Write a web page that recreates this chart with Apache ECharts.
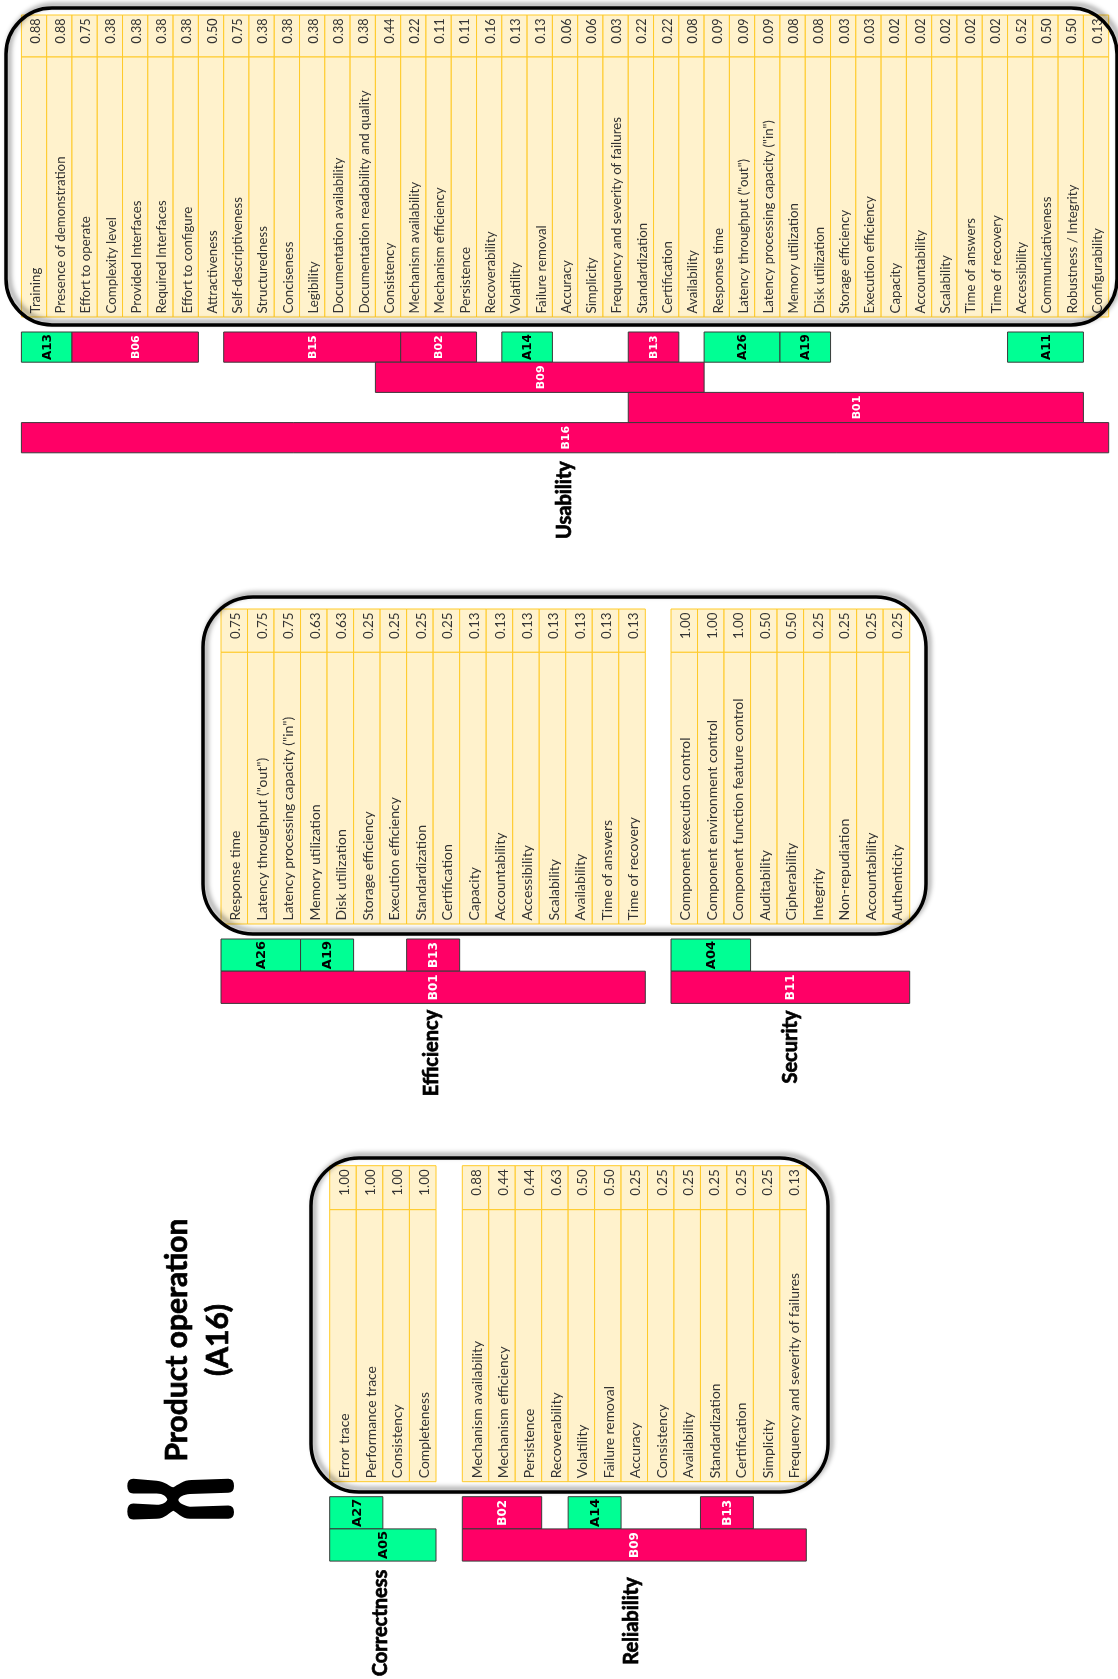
<!DOCTYPE html>
<html>
<head>
<meta charset="utf-8">
<title>Product operation (A16)</title>
<script src="https://cdn.jsdelivr.net/npm/echarts@6/dist/echarts.min.js"></script>
<style>
  html, body { margin: 0; padding: 0; background: #fff; }
  #main { width: 1118px; height: 1679px; }
</style>
</head>
<body>
<div id="main"></div>
<script>
// bars are [label, first column, last column, level] (level 1 sits next to the table)
const usabilityNames = ['Training', 'Presence of demonstration', 'Effort to operate', 'Complexity level', 'Provided Interfaces', 'Required Interfaces', 'Effort to configure', 'Attractiveness', 'Self-descriptiveness', 'Structuredness', 'Conciseness', 'Legibility', 'Documentation availability', 'Documentation readability and quality', 'Consistency', 'Mechanism availability', 'Mechanism efficiency', 'Persistence', 'Recoverability', 'Volatility', 'Failure removal', 'Accuracy', 'Simplicity', 'Frequency and severity of failures', 'Standardization', 'Certification', 'Availability', 'Response time', 'Latency throughput ("out")', 'Latency processing capacity ("in")', 'Memory utilization', 'Disk utilization', 'Storage efficiency', 'Execution efficiency', 'Capacity', 'Accountability', 'Scalability', 'Time of answers', 'Time of recovery', 'Accessibility', 'Communicativeness', 'Robustness / Integrity', 'Configurability'];
const usabilityValues = [0.88, 0.88, 0.75, 0.38, 0.38, 0.38, 0.38, 0.50, 0.75, 0.38, 0.38, 0.38, 0.38, 0.38, 0.44, 0.22, 0.11, 0.11, 0.16, 0.13, 0.13, 0.06, 0.06, 0.03, 0.22, 0.22, 0.08, 0.09, 0.09, 0.09, 0.08, 0.08, 0.03, 0.03, 0.02, 0.02, 0.02, 0.02, 0.02, 0.52, 0.50, 0.50, 0.13];
const usabilityBars = [['A13', 0, 1, 1], ['B06', 2, 6, 1], ['B15', 8, 14, 1], ['B02', 15, 17, 1], ['A14', 19, 20, 1], ['B13', 24, 25, 1], ['A26', 27, 29, 1], ['A19', 30, 31, 1], ['A11', 39, 41, 1], ['B09', 14, 26, 2], ['B01', 24, 41, 3], ['B16', 0, 42, 4]];

const efficiencyNames = ['Response time', 'Latency throughput ("out")', 'Latency processing capacity ("in")', 'Memory utilization', 'Disk utilization', 'Storage efficiency', 'Execution efficiency', 'Standardization', 'Certification', 'Capacity', 'Accountability', 'Accessibility', 'Scalability', 'Availability', 'Time of answers', 'Time of recovery'];
const efficiencyValues = [0.75, 0.75, 0.75, 0.63, 0.63, 0.25, 0.25, 0.25, 0.25, 0.13, 0.13, 0.13, 0.13, 0.13, 0.13, 0.13];
const efficiencyBars = [['A26', 0, 2, 1], ['A19', 3, 4, 1], ['B13', 7, 8, 1], ['B01', 0, 15, 2]];

const securityNames = ['Component execution control', 'Component environment control', 'Component function feature control', 'Auditability', 'Cipherability', 'Integrity', 'Non-repudiation', 'Accountability', 'Authenticity'];
const securityValues = [1.00, 1.00, 1.00, 0.50, 0.50, 0.25, 0.25, 0.25, 0.25];
const securityBars = [['A04', 0, 2, 1], ['B11', 0, 8, 2]];

const correctnessNames = ['Error trace', 'Performance trace', 'Consistency', 'Completeness'];
const correctnessValues = [1.00, 1.00, 1.00, 1.00];
const correctnessBars = [['A27', 0, 1, 1], ['A05', 0, 3, 2]];

const reliabilityNames = ['Mechanism availability', 'Mechanism efficiency', 'Persistence', 'Recoverability', 'Volatility', 'Failure removal', 'Accuracy', 'Consistency', 'Availability', 'Standardization', 'Certification', 'Simplicity', 'Frequency and severity of failures'];
const reliabilityValues = [0.88, 0.44, 0.44, 0.63, 0.50, 0.50, 0.25, 0.25, 0.25, 0.25, 0.25, 0.25, 0.13];
const reliabilityBars = [['B02', 0, 2, 1], ['A14', 4, 5, 1], ['B13', 9, 10, 1], ['B09', 0, 12, 2]];

const PINK = '#ff0066';
const GREEN = '#00ff94';

var chart = echarts.init(document.getElementById('main'));

// one grid per table, y axis runs in px from the top of the table
const panels = [
  { names: usabilityNames, values: usabilityValues, bars: usabilityBars, left: 21.4, width: 1087.3, top: 15, split: 42, end: 302, barsAt: 317, rowH: 30.2, rows: 4, font: 13.3, valueFont: 12.6, barFont: 12 },
  { names: efficiencyNames, values: efficiencyValues, bars: efficiencyBars, left: 221, width: 424.3, top: 609, split: 43.3, end: 315, barsAt: 330, rowH: 32.2, rows: 2, font: 14, valueFont: 13.4, barFont: 13 },
  { names: securityNames, values: securityValues, bars: securityBars, left: 671, width: 238.7, top: 609, split: 43.3, end: 315, barsAt: 330, rowH: 32.2, rows: 2, font: 14, valueFont: 13.4, barFont: 13 },
  { names: correctnessNames, values: correctnessValues, bars: correctnessBars, left: 329.7, width: 106.3, top: 1165.7, split: 44, end: 316, barsAt: 331, rowH: 32.2, rows: 2, font: 13.9, valueFont: 13.4, barFont: 13 },
  { names: reliabilityNames, values: reliabilityValues, bars: reliabilityBars, left: 462.3, width: 344, top: 1165.7, split: 44, end: 316, barsAt: 331, rowH: 32.2, rows: 2, font: 13.9, valueFont: 13.4, barFont: 13 }
];

var grids = [], xAxes = [], yAxes = [], series = [];

panels.forEach(function (p, k) {
  var h = p.barsAt + p.rows * p.rowH;
  grids.push({ left: p.left, top: p.top, width: p.width, height: h });
  xAxes.push({ gridIndex: k, type: 'category', data: p.names, show: false });
  yAxes.push({ gridIndex: k, type: 'value', min: 0, max: h, inverse: true, show: false });

  series.push({
    type: 'custom',
    xAxisIndex: k,
    yAxisIndex: k,
    clip: false,
    data: p.values.map(function (v, i) { return [i, v]; }),
    encode: { x: 0, y: 1 },
    renderItem: function (params, api) {
      var i = api.value(0);
      var bw = api.size([1, 0])[0];
      var cx = api.coord([i, 0])[0];
      var y0 = api.coord([i, 0])[1];
      var y1 = api.coord([i, p.split])[1];
      var y2 = api.coord([i, p.end])[1];
      var cell = { fill: '#fff2cc', stroke: '#ffca28', lineWidth: 1 };
      return {
        type: 'group',
        children: [
          { type: 'rect', shape: { x: cx - bw / 2, y: y0, width: bw, height: y1 - y0 }, style: cell },
          { type: 'rect', shape: { x: cx - bw / 2, y: y1, width: bw, height: y2 - y1 }, style: cell },
          { type: 'text', x: cx + 1.5, y: y0 + 3.5, rotation: Math.PI / 2, style: { text: api.value(1).toFixed(2), fill: '#333', font: p.valueFont + 'px Lato', align: 'right', verticalAlign: 'middle' } },
          { type: 'text', x: cx + 1.5, y: y2 - 3.5, rotation: Math.PI / 2, style: { text: p.names[i], fill: '#333', font: p.font + 'px Lato', align: 'left', verticalAlign: 'middle' } }
        ]
      };
    }
  });

  series.push({
    type: 'custom',
    xAxisIndex: k,
    yAxisIndex: k,
    clip: false,
    data: p.bars.map(function (b) { return [b[1], b[2], b[3]]; }),
    encode: { x: [0, 1], y: 2 },
    renderItem: function (params, api) {
      var bar = p.bars[params.dataIndex];
      var bw = api.size([1, 0])[0];
      var x0 = api.coord([api.value(0), 0])[0] - bw / 2;
      var x1 = api.coord([api.value(1), 0])[0] + bw / 2;
      var lv = api.value(2);
      var y0 = api.coord([0, p.barsAt + (lv - 1) * p.rowH])[1];
      var y1 = api.coord([0, p.barsAt + lv * p.rowH])[1];
      var isGreen = bar[0].charAt(0) === 'A';
      return {
        type: 'group',
        children: [
          { type: 'rect', shape: { x: x0, y: y0, width: x1 - x0, height: y1 - y0 }, style: { fill: isGreen ? GREEN : PINK, stroke: '#3a3a3a', lineWidth: 1 } },
          { type: 'text', x: (x0 + x1) / 2 + 1, y: (y0 + y1) / 2, rotation: Math.PI / 2, style: { text: bar[0], fill: isGreen ? '#000' : '#fff', font: 'bold ' + (isGreen ? p.barFont : p.barFont - 1) + 'px "DejaVu Sans"', align: 'center', verticalAlign: 'middle' } }
        ]
      };
    }
  });
});

// graphic has no free path element, the chromosome icon goes through a custom series
var chromosome = 'M40 26 L110 32 C135 34 150 50 160 52 C172 46 190 30 215 30 L325 26 Q342 26 342 48 Q342 68 325 68 L210 72 C190 74 178 80 175 90 C178 100 190 106 210 110 L325 106 Q342 106 342 126 Q342 146 325 146 L210 146 C185 146 170 125 160 122 C150 125 135 146 110 146 L40 148 Q22 148 22 124 Q22 100 40 100 L110 104 C130 104 140 95 142 88 C140 80 130 70 110 70 L40 70 Q22 70 22 48 Q22 26 40 26 Z';
series.push({
  type: 'custom',
  coordinateSystem: 'none',
  silent: true,
  data: [[0]],
  renderItem: function () {
    return { type: 'path', shape: { pathData: chromosome, layout: 'cover', x: 127.3, y: 1478.7, width: 106.7, height: 40.7 }, style: { fill: '#000' } };
  }
});

function frame(x0, y0, x1, y1, r) {
  return {
    type: 'rect',
    z: 100,
    silent: true,
    shape: { x: x0, y: y0, width: x1 - x0, height: y1 - y0, r: r },
    style: { fill: null, stroke: '#000', lineWidth: 3.5, shadowColor: 'rgba(0,0,0,0.45)', shadowBlur: 5, shadowOffsetX: 3, shadowOffsetY: -3 }
  };
}

function heading(text, x, y, size) {
  return {
    type: 'text',
    z: 100,
    silent: true,
    x: x,
    y: y,
    rotation: Math.PI / 2,
    style: { text: text, fill: '#000', stroke: '#000', lineWidth: 0.7, font: 'bold ' + size + 'px Lato', align: 'center', verticalAlign: 'middle' }
  };
}

var option = {
  animation: false,
  backgroundColor: '#fff',
  grid: grids,
  xAxis: xAxes,
  yAxis: yAxes,
  series: series,
  graphic: [
    frame(6, 8, 1117, 325, 46),
    frame(203, 597, 926, 934, 50),
    frame(311, 1158, 828, 1492, 48),
    heading('Usability', 565, 500, 20),
    heading('Efficiency', 431.7, 1053, 20),
    heading('Security', 791, 1047, 20),
    heading('Correctness', 381, 1623, 20),
    heading('Reliability', 632, 1621, 20),
    heading('Product operation', 177, 1340, 30),
    heading('(A16)', 218, 1340, 30)
  ]
};

option && chart.setOption(option);
</script>
</body>
</html>
